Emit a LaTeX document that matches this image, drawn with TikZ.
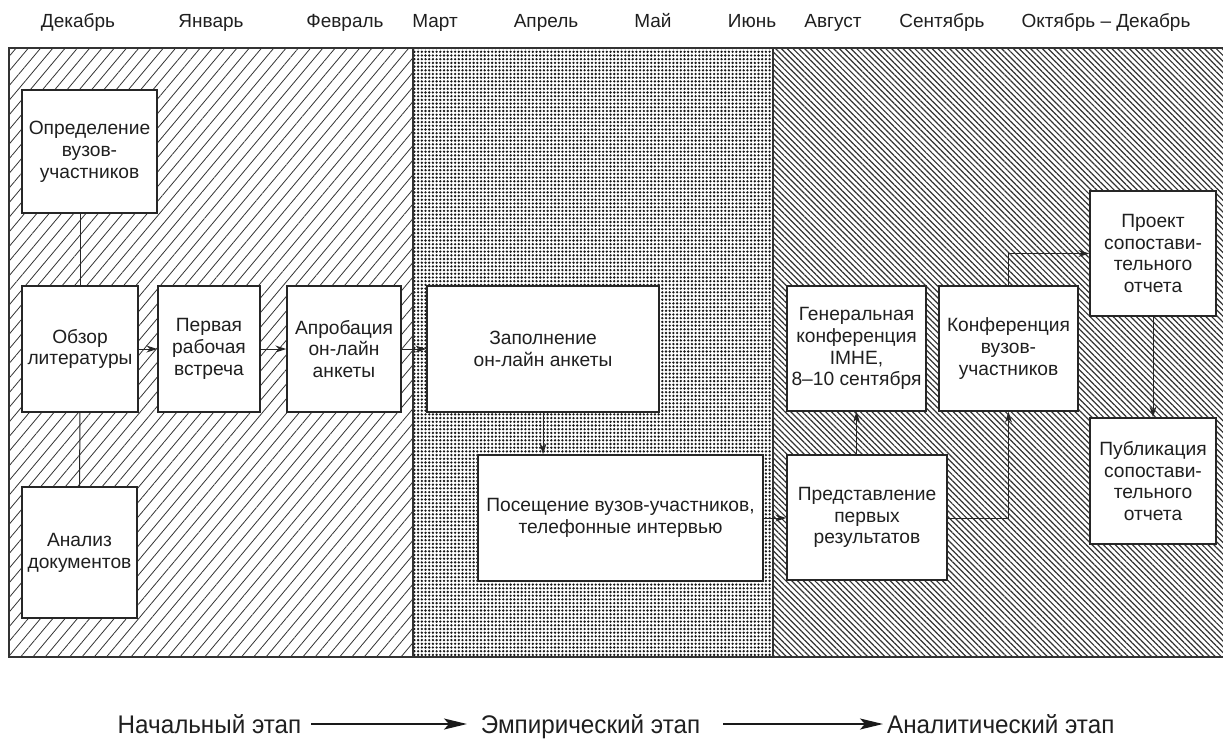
\documentclass[tikz,border=0pt]{standalone}
\usepackage{fontspec}
\setmainfont{Liberation Sans}
\newfontfamily\legendfont[FakeStretch=0.95]{Liberation Sans}
\usetikzlibrary{patterns.meta,arrows.meta}
\begin{document}
\begin{tikzpicture}[x=1pt,y=-1pt,
  frame/.style={draw=black!80,line width=1.4pt},
  box/.style={draw=black!85,line width=1.4pt,fill=white,align=center,inner sep=0pt,
    font=\fontsize{19.2}{21.8}\selectfont,text=black!88},
  month/.style={font=\fontsize{19}{22}\selectfont,text=black!88,anchor=base,inner sep=0pt},
  legend/.style={font=\legendfont\fontsize{25.5}{28}\selectfont,text=black!88,anchor=base,inner sep=0pt},
  arr/.style={draw=black!85,line width=1pt,-{Stealth[length=11pt,width=7pt]}},
  link/.style={draw=black!85,line width=1pt},
  legarr/.style={draw=black!90,line width=1.8pt,-{Stealth[length=23pt,width=11pt,inset=5pt]}}
]
\useasboundingbox (0,0) rectangle (1223,740);

% background regions
\fill[pattern={Lines[angle=50,distance=9.4pt,line width=0.8pt]},pattern color=black!80] (9,48) rectangle (413,657);
\fill[pattern={Dots[radius=1.3pt,distance=3.7pt]},pattern color=black!90] (413,48) rectangle (773,657);
\fill[pattern={Lines[angle=-45,distance=4.1pt,line width=1.2pt]},pattern color=black!80] (773,48) rectangle (1228,657);
\draw[frame] (1228,48) -- (9,48) -- (9,657) -- (1228,657);
\draw[frame] (413,48) -- (413,657);
\draw[frame] (773,48) -- (773,657);

% months
\node[month] (m1) at (78,27) {Декабрь};
\node[month] (m2) at (211,27) {Январь};
\node[month] (m3) at (345,27) {Февраль};
\node[month] (m4) at (435,27) {Март};
\node[month] (m5) at (546,27) {Апрель};
\node[month] (m6) at (653,27) {Май};
\node[month] (m7) at (752,27) {Июнь};
\node[month] (m8) at (833,27) {Август};
\node[month] (m9) at (942,27) {Сентябрь};
\node[month] (m10) at (1106,27) {Октябрь – Декабрь};

% boxes
\node[box,minimum width=135pt,minimum height=123pt] (def) at (89.5,151.5) {Определение\\вузов-\\участников};
\node[box,minimum width=116pt,minimum height=126pt] (obz) at (80,349) {Обзор\\литературы};
\node[box,minimum width=102pt,minimum height=126pt] (perv) at (209,349) {Первая\\рабочая\\встреча};
\node[box,minimum width=114pt,minimum height=126pt] (apr) at (344,349) {Апробация\\он-лайн\\анкеты};
\node[box,minimum width=115pt,minimum height=131pt] (anal) at (79.5,552.5) {Анализ\\документов};
\node[box,minimum width=232pt,minimum height=126pt] (zap) at (543,349) {Заполнение\\он-лайн анкеты};
\node[box,minimum width=285pt,minimum height=126pt] (pos) at (620.5,518) {Посещение вузов-участников,\\телефонные интервью};
\node[box,minimum width=139pt,minimum height=125pt] (gen) at (856.5,348.5) {Генеральная\\конференция\\IMHE,\\8–10 сентября};
\node[box,minimum width=139pt,minimum height=125pt] (konf) at (1008.5,348.5) {Конференция\\вузов-\\участников};
\node[box,minimum width=126pt,minimum height=125pt] (proj) at (1153,253.5) {Проект\\сопостави-\\тельного\\отчета};
\node[box,minimum width=126pt,minimum height=126pt] (pub) at (1153,481) {Публикация\\сопостави-\\тельного\\отчета};
\node[box,minimum width=160pt,minimum height=125pt] (pred) at (867,517.5) {Представление\\первых\\результатов};

% connectors
\draw[link] (obz.north) -- (obz.north |- def.south);
\draw[link] (obz.south) -- (anal.north);
\draw[arr] (obz.east) -- (perv.west);
\draw[arr] (perv.east) -- (apr.west);
\draw[arr] (apr.east) -- (zap.west);
\draw[arr] (zap.south) -- (zap.south |- pos.north);
\draw[arr] (pos.east) -- (pred.west |- pos.east);
\draw[arr] (gen.south |- pred.north) -- (gen.south);
\draw[arr] (pred.east |- pos.east) -| (konf.south);
\draw[arr] (konf.north) |- (proj.west);
\draw[arr] (proj.south) -- (pub.north);

% legend
\node[legend] (l1) at (209.5,733) {Начальный этап};
\node[legend] (l2) at (590.5,733) {Эмпирический этап};
\node[legend,anchor=base west] (l3) at (887,733) {Аналитический этап};
\coordinate (a1s) at (311,724);
\coordinate (a1e) at (467,724);
\coordinate (a2s) at (723,724);
\coordinate (a2e) at (883,724);
\draw[legarr] (a1s) -- (a1e);
\draw[legarr] (a2s) -- (a2e);
\end{tikzpicture}
\end{document}
